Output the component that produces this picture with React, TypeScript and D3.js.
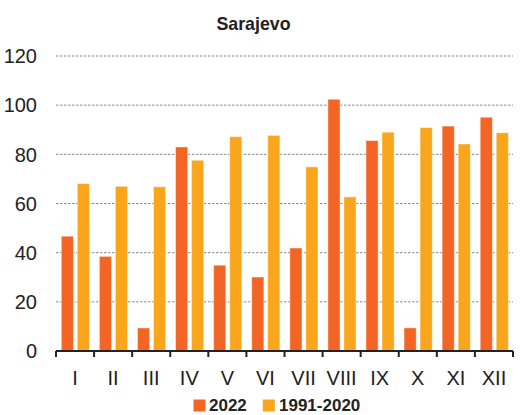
import React from "react";
import * as d3 from "d3";

const months = ["I", "II", "III", "IV", "V", "VI", "VII", "VIII", "IX", "X", "XI", "XII"];
const series = ["2022", "1991-2020"];
const values2022 = [46.7, 38.5, 9.4, 83.0, 34.9, 30.1, 41.9, 102.4, 85.6, 9.4, 91.5, 95.1];
const valuesNormal = [68.1, 67.0, 66.8, 77.6, 87.2, 87.7, 74.9, 62.7, 89.0, 90.9, 84.2, 88.8];
const yTicks = [0, 20, 40, 60, 80, 100, 120];
const colors = ["#F26524", "#F9A61C"];

const W = 529;
const H = 415;
const left = 56;
const right = 513;
const top = 56;
const bottom = 351;

export default function App() {
  const x = d3.scaleBand<string>().domain(months).range([left, right]).padding(0);
  const bw = x.bandwidth();
  const x1 = d3.scaleBand<string>().domain(series).range([5.3, bw - 4.6]).paddingInner(0.24).paddingOuter(0);
  const y = d3.scaleLinear().domain([0, 120]).range([bottom, top]);
  const data = [values2022, valuesNormal];
  const narrow = "'Liberation Sans Narrow', 'Arial Narrow', 'Liberation Sans', Arial, sans-serif";
  const sans = "'Liberation Sans', Arial, sans-serif";
  const boundaries = [...months.map((m) => x(m) as number), right];

  return (
    <svg width={W} height={H} style={{ position: "absolute", left: 0, top: 0, background: "#fff" }}>
      <text x={253.5} y={29.5} textAnchor="middle" fontFamily={sans} fontWeight="bold" fontSize={17.8} fill="#222">
        Sarajevo
      </text>
      {yTicks.map((t) => (
        <g key={t}>
          {t > 0 && (
            <line x1={left} x2={right} y1={y(t)} y2={y(t)} stroke="#8a8a8a" strokeWidth={1} strokeDasharray="2.5,1.5" />
          )}
          <text x={37} y={y(t)} dy="0.36em" textAnchor="end" fontFamily={narrow} fontSize={20} fill="#222">
            {t}
          </text>
        </g>
      ))}
      {months.map((m, i) => (
        <g key={m} transform={`translate(${x(m)},0)`}>
          {series.map((s, j) => {
            const v = data[j][i];
            return (
              <rect
                key={s}
                x={x1(s)}
                y={y(v)}
                width={x1.bandwidth()}
                height={y(0) - y(v)}
                fill={colors[j]}
                stroke="rgba(255,255,255,0.45)"
                strokeWidth={1}
              />
            );
          })}
          <text x={bw / 2} y={385} textAnchor="middle" fontFamily={narrow} fontSize={20} fill="#222">
            {m}
          </text>
        </g>
      ))}
      <line x1={left} x2={right} y1={bottom} y2={bottom} stroke="#222" strokeWidth={2} />
      {boundaries.map((b, i) => (
        <line key={i} x1={b} x2={b} y1={bottom} y2={bottom + 6} stroke="#222" strokeWidth={2} />
      ))}
      <g fontFamily={sans} fontWeight="bold" fontSize={17} fill="#222">
        <rect x={193.5} y={399.5} width={12} height={12} fill={colors[0]} />
        <text x={209} y={411}>{series[0]}</text>
        <rect x={262.8} y={399.5} width={12} height={12} fill={colors[1]} />
        <text x={279} y={411}>{series[1]}</text>
      </g>
    </svg>
  );
}
